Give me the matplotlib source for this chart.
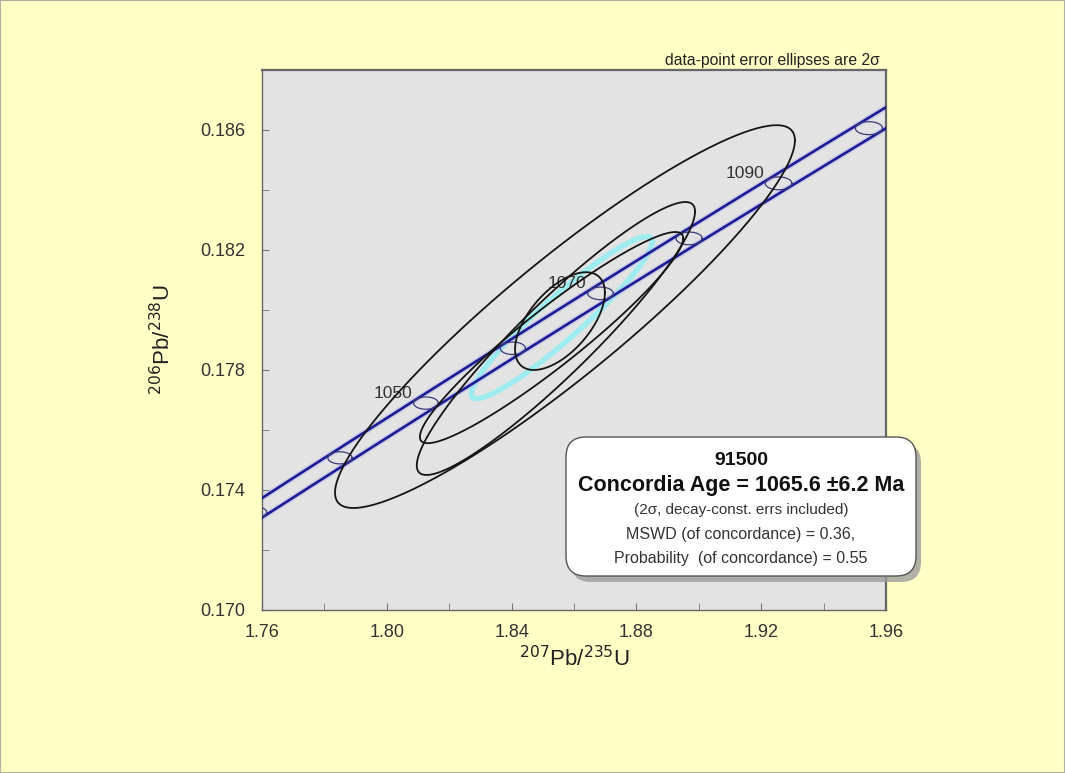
import matplotlib
matplotlib.use("Agg")
import matplotlib.pyplot as plt
import numpy as np
from matplotlib.patches import FancyBboxPatch, Rectangle
from matplotlib.ticker import MultipleLocator, FormatStrFormatter

plt.rcParams['font.family'] = ['Liberation Sans', 'DejaVu Sans']

# U decay constants (1/yr) and their relative 1-sigma errors
LAMBDA_238 = 1.55125e-10
LAMBDA_235 = 9.8485e-10
REL_ERR_238 = 0.00107
REL_ERR_235 = 0.00136

# analyses: 207Pb/235U, 206Pb/238U with 2-sigma half-widths and error correlation
pb207_u235 = [1.8571, 1.8542, 1.8528, 1.8555]
pb207_u235_err = [0.0737, 0.0446, 0.0422, 0.0144]
pb206_u238 = [0.17978, 0.17905, 0.17908, 0.17963]
pb206_u238_err = [0.00638, 0.00455, 0.00352, 0.00163]
err_corr = [0.92, 0.93, 0.94, 0.58]

# concordia age result
conc_age = 1065.6  # Ma
conc_age_err = 6.2
conc_sx = 0.0290
conc_sy = 0.0027
conc_rho = 0.94
mswd = 0.36
prob = 0.55
sample = "91500"

# age ticks along concordia (Ma)
tick_ages = [1030, 1040, 1050, 1060, 1070, 1080, 1090, 1100, 1110]
labelled_ages = [1050, 1070, 1090]


def concordia(t_ma):
    t = np.asarray(t_ma) * 1e6
    return np.exp(LAMBDA_235 * t) - 1, np.exp(LAMBDA_238 * t) - 1


def decay_err(t_ma):
    # half-widths of the decay-constant error ellipse at age t
    t = np.asarray(t_ma) * 1e6
    x, y = concordia(t_ma)
    return (1 + x) * LAMBDA_235 * t * REL_ERR_235, (1 + y) * LAMBDA_238 * t * REL_ERR_238


def ellipse_xy(cx, cy, sx, sy, rho, n=240):
    s = np.linspace(0, 2 * np.pi, n)
    phi = np.arccos(rho)
    return cx + sx * np.cos(s), cy + sy * np.cos(s - phi)


fig = plt.figure(figsize=(10.65, 7.73), dpi=100, facecolor='#ffffc6')
fig.patches.append(Rectangle((0, 0), 1, 1, transform=fig.transFigure,
                             fill=False, edgecolor='#b0b0a0', lw=1.5))
ax = fig.add_axes([262 / 1065, 163 / 773, 624 / 1065, 540 / 773])
ax.set_facecolor('#e3e3e3')

# concordia with decay-constant error envelope
t = np.linspace(1020, 1115, 600)
cx, cy = concordia(t)
ex, ey = decay_err(t)
dx, dy = np.gradient(cx), np.gradient(cy)
nx, ny = -dy, dx
h = np.sqrt(ex**2 * nx**2 + ey**2 * ny**2)
px, py = ex**2 * nx / h, ey**2 * ny / h
for sgn in (1, -1):
    ax.plot(cx + sgn * px, cy + sgn * py, color='#b4b4ee', lw=4, alpha=0.5, zorder=2)
    ax.plot(cx + sgn * px, cy + sgn * py, color='#1c1c94', lw=1.9, zorder=3)

# age markers on concordia
for age in tick_ages:
    mx, my = concordia(age)
    sx, sy = decay_err(age)
    ex_, ey_ = ellipse_xy(mx, my, sx, sy, 0.0)
    ax.plot(ex_, ey_, color='#3a3a7a', lw=0.9, zorder=3)
    if age in labelled_ages:
        ax.annotate(str(age), (mx, my), xytext=(-14, 10), textcoords='offset pixels',
                    ha='right', va='center', fontsize=12.5, color='#333333', zorder=4)

# concordia age ellipse
ax_c, ay_c = concordia(conc_age)
ex_, ey_ = ellipse_xy(ax_c, ay_c, conc_sx, conc_sy, conc_rho)
ax.plot(ex_, ey_, color='#98eef2', lw=4, alpha=0.9, zorder=1)

# data-point error ellipses
for x0, sx, y0, sy, r in zip(pb207_u235, pb207_u235_err, pb206_u238, pb206_u238_err, err_corr):
    ex_, ey_ = ellipse_xy(x0, y0, sx, sy, r)
    ax.plot(ex_, ey_, color='#151515', lw=1.3, zorder=5)

ax.set_xlim(1.76, 1.96)
ax.set_ylim(0.170, 0.188)
ax.xaxis.set_major_locator(MultipleLocator(0.04))
ax.xaxis.set_minor_locator(MultipleLocator(0.02))
ax.yaxis.set_major_locator(MultipleLocator(0.004, offset=0.002))
ax.yaxis.set_minor_locator(MultipleLocator(0.002))
ax.xaxis.set_major_formatter(FormatStrFormatter('%.2f'))
ax.yaxis.set_major_formatter(FormatStrFormatter('%.3f'))
ax.tick_params(which='both', direction='in', length=5, color='#777777',
               labelsize=13, labelcolor='#333333')
ax.tick_params(axis='y', pad=12)
ax.tick_params(axis='x', pad=10)
for side, sp in ax.spines.items():
    sp.set_color('#666666')
    sp.set_linewidth(1.0)
ax.spines['right'].set_linewidth(1.6)
ax.spines['top'].set_linewidth(1.6)

ax.set_xlabel(r'$^{207}$Pb/$^{235}$U', fontsize=16, color='#222222', labelpad=4)
ax.set_ylabel(r'$^{206}$Pb/$^{238}$U', fontsize=16, color='#222222', labelpad=18)

fig.text(880 / 1065, 1 - 60 / 773, 'data-point error ellipses are 2σ',
         ha='right', va='center', fontsize=11.3, color='#222222')

# result box with drop shadow
bx, by, bw, bh = 5.66, 1.97, 3.50, 1.39
shadow = FancyBboxPatch((bx + 0.05, by - 0.06), bw, bh, boxstyle='round,pad=0,rounding_size=0.2',
                        transform=fig.dpi_scale_trans, facecolor='#9c9c9c', edgecolor='none',
                        alpha=0.8, zorder=8)
box = FancyBboxPatch((bx, by), bw, bh, boxstyle='round,pad=0,rounding_size=0.2',
                     transform=fig.dpi_scale_trans, facecolor='white', edgecolor='#555555',
                     lw=1.0, zorder=9)
fig.patches.extend([shadow, box])

xc = (bx + bw / 2) / 10.65
lines = [
    (sample, 14, 'bold', '#111111', 460),
    ('Concordia Age = %.1f \u00b1%.1f Ma' % (conc_age, conc_age_err), 15.5, 'bold', '#111111', 485),
    ('(2σ, decay-const. errs included)', 11, 'normal', '#333333', 510),
    ('MSWD (of concordance) = %.2f,' % mswd, 11.5, 'normal', '#333333', 534),
    ('Probability  (of concordance) = %.2f' % prob, 11.5, 'normal', '#333333', 558),
]
for s, fs, fw, col, ypix in lines:
    fig.text(xc, 1 - ypix / 773, s, ha='center', va='center', fontsize=fs,
             fontweight=fw, color=col, zorder=10)

fig.savefig('out.png', dpi=100, facecolor=fig.get_facecolor())
